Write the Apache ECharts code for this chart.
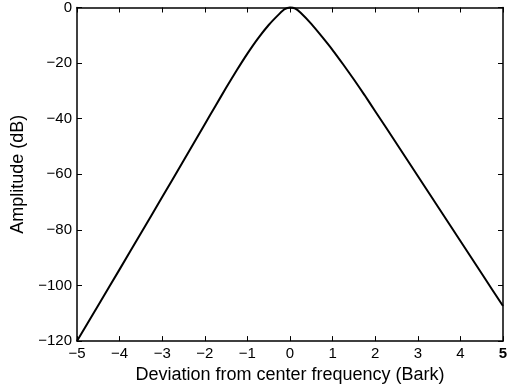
<!DOCTYPE html>
<html>
<head>
<meta charset="utf-8">
<script src="https://cdn.jsdelivr.net/npm/echarts@6/dist/echarts.min.js"></script>
<style>
html,body{margin:0;padding:0;background:#fff;}
#c{width:518px;height:389px;}
</style>
</head>
<body>
<div id="c"></div>
<script>
// Deviation from center frequency (Bark)
const xValues = [-5, -4.5, -4, -3.5, -3, -2.5, -2, -1.75, -1.5, -1.25, -1, -0.75, -0.5, -0.25, -0.125, 0,
                 0.125, 0.25, 0.5, 0.75, 1, 1.25, 1.5, 1.75, 2, 2.5, 3, 3.5, 4, 4.5, 5];
// Amplitude (dB)
const yValues = [-120, -107.1, -94.2, -81.2, -68.2, -55.1, -42.0, -35.4, -28.9, -22.6, -16.6, -11.1, -6.3, -2.3, -0.6, 0,
                 -0.4, -1.9, -5.9, -10.5, -15.3, -20.5, -25.9, -31.5, -37.3, -48.9, -60.6, -72.3, -84.0, -95.7, -107.4];
const xTicks = [-5, -4, -3, -2, -1, 0, 1, 2, 3, 4, 5];
const yTicks = [-120, -100, -80, -60, -40, -20, 0];

const fmt = v => (v < 0 ? '\u2212' + Math.abs(v) : String(v));
const FONT = 'Liberation Sans, Arial, Helvetica, sans-serif';

const chart = echarts.init(document.getElementById('c'), null, {renderer: 'canvas'});
const axisCommon = {
  axisLine: {show: true, onZero: false, lineStyle: {color: '#000', width: 1.5}},
  axisTick: {show: true, inside: true, length: 5, lineStyle: {color: '#000', width: 1}},
  splitLine: {show: false}
};
chart.setOption({
  backgroundColor: '#fff',
  animation: false,
  grid: {left: 77, right: 15, top: 6, bottom: 47, containLabel: false},
  xAxis: [
    Object.assign({
      type: 'value', min: xTicks[0], max: xTicks[xTicks.length - 1], interval: 1, position: 'bottom',
      name: 'Deviation from center frequency (Bark)', nameLocation: 'middle', nameGap: 21,
      nameTextStyle: {color: '#000', fontSize: 18, fontFamily: FONT},
      axisLabel: {
        color: '#000', fontSize: 15, fontFamily: FONT, margin: 5,
        formatter: v => (v === 5 ? '{b|' + fmt(v) + '}' : fmt(v)),
        rich: {b: {fontWeight: 'bold', fontSize: 15, fontFamily: FONT, color: '#000'}}
      }
    }, axisCommon),
    Object.assign({
      type: 'value', min: xTicks[0], max: xTicks[xTicks.length - 1], interval: 1, position: 'top',
      axisLabel: {show: false}
    }, axisCommon)
  ],
  yAxis: [
    Object.assign({
      type: 'value', min: yTicks[0], max: yTicks[yTicks.length - 1], interval: 20, position: 'left',
      name: 'Amplitude (dB)', nameLocation: 'middle', nameGap: 42,
      nameTextStyle: {color: '#000', fontSize: 18, fontFamily: FONT},
      axisLabel: {color: '#000', fontSize: 15, fontFamily: FONT, margin: 5, formatter: fmt}
    }, axisCommon),
    Object.assign({
      type: 'value', min: yTicks[0], max: yTicks[yTicks.length - 1], interval: 20, position: 'right',
      axisLabel: {show: false}
    }, axisCommon)
  ],
  series: [{
    type: 'line',
    xAxisIndex: 0, yAxisIndex: 0,
    data: xValues.map((x, i) => [x, yValues[i]]),
    showSymbol: false,
    smooth: 0.15,
    lineStyle: {color: '#000', width: 2},
    clip: false
  }]
});
</script>
</body>
</html>
